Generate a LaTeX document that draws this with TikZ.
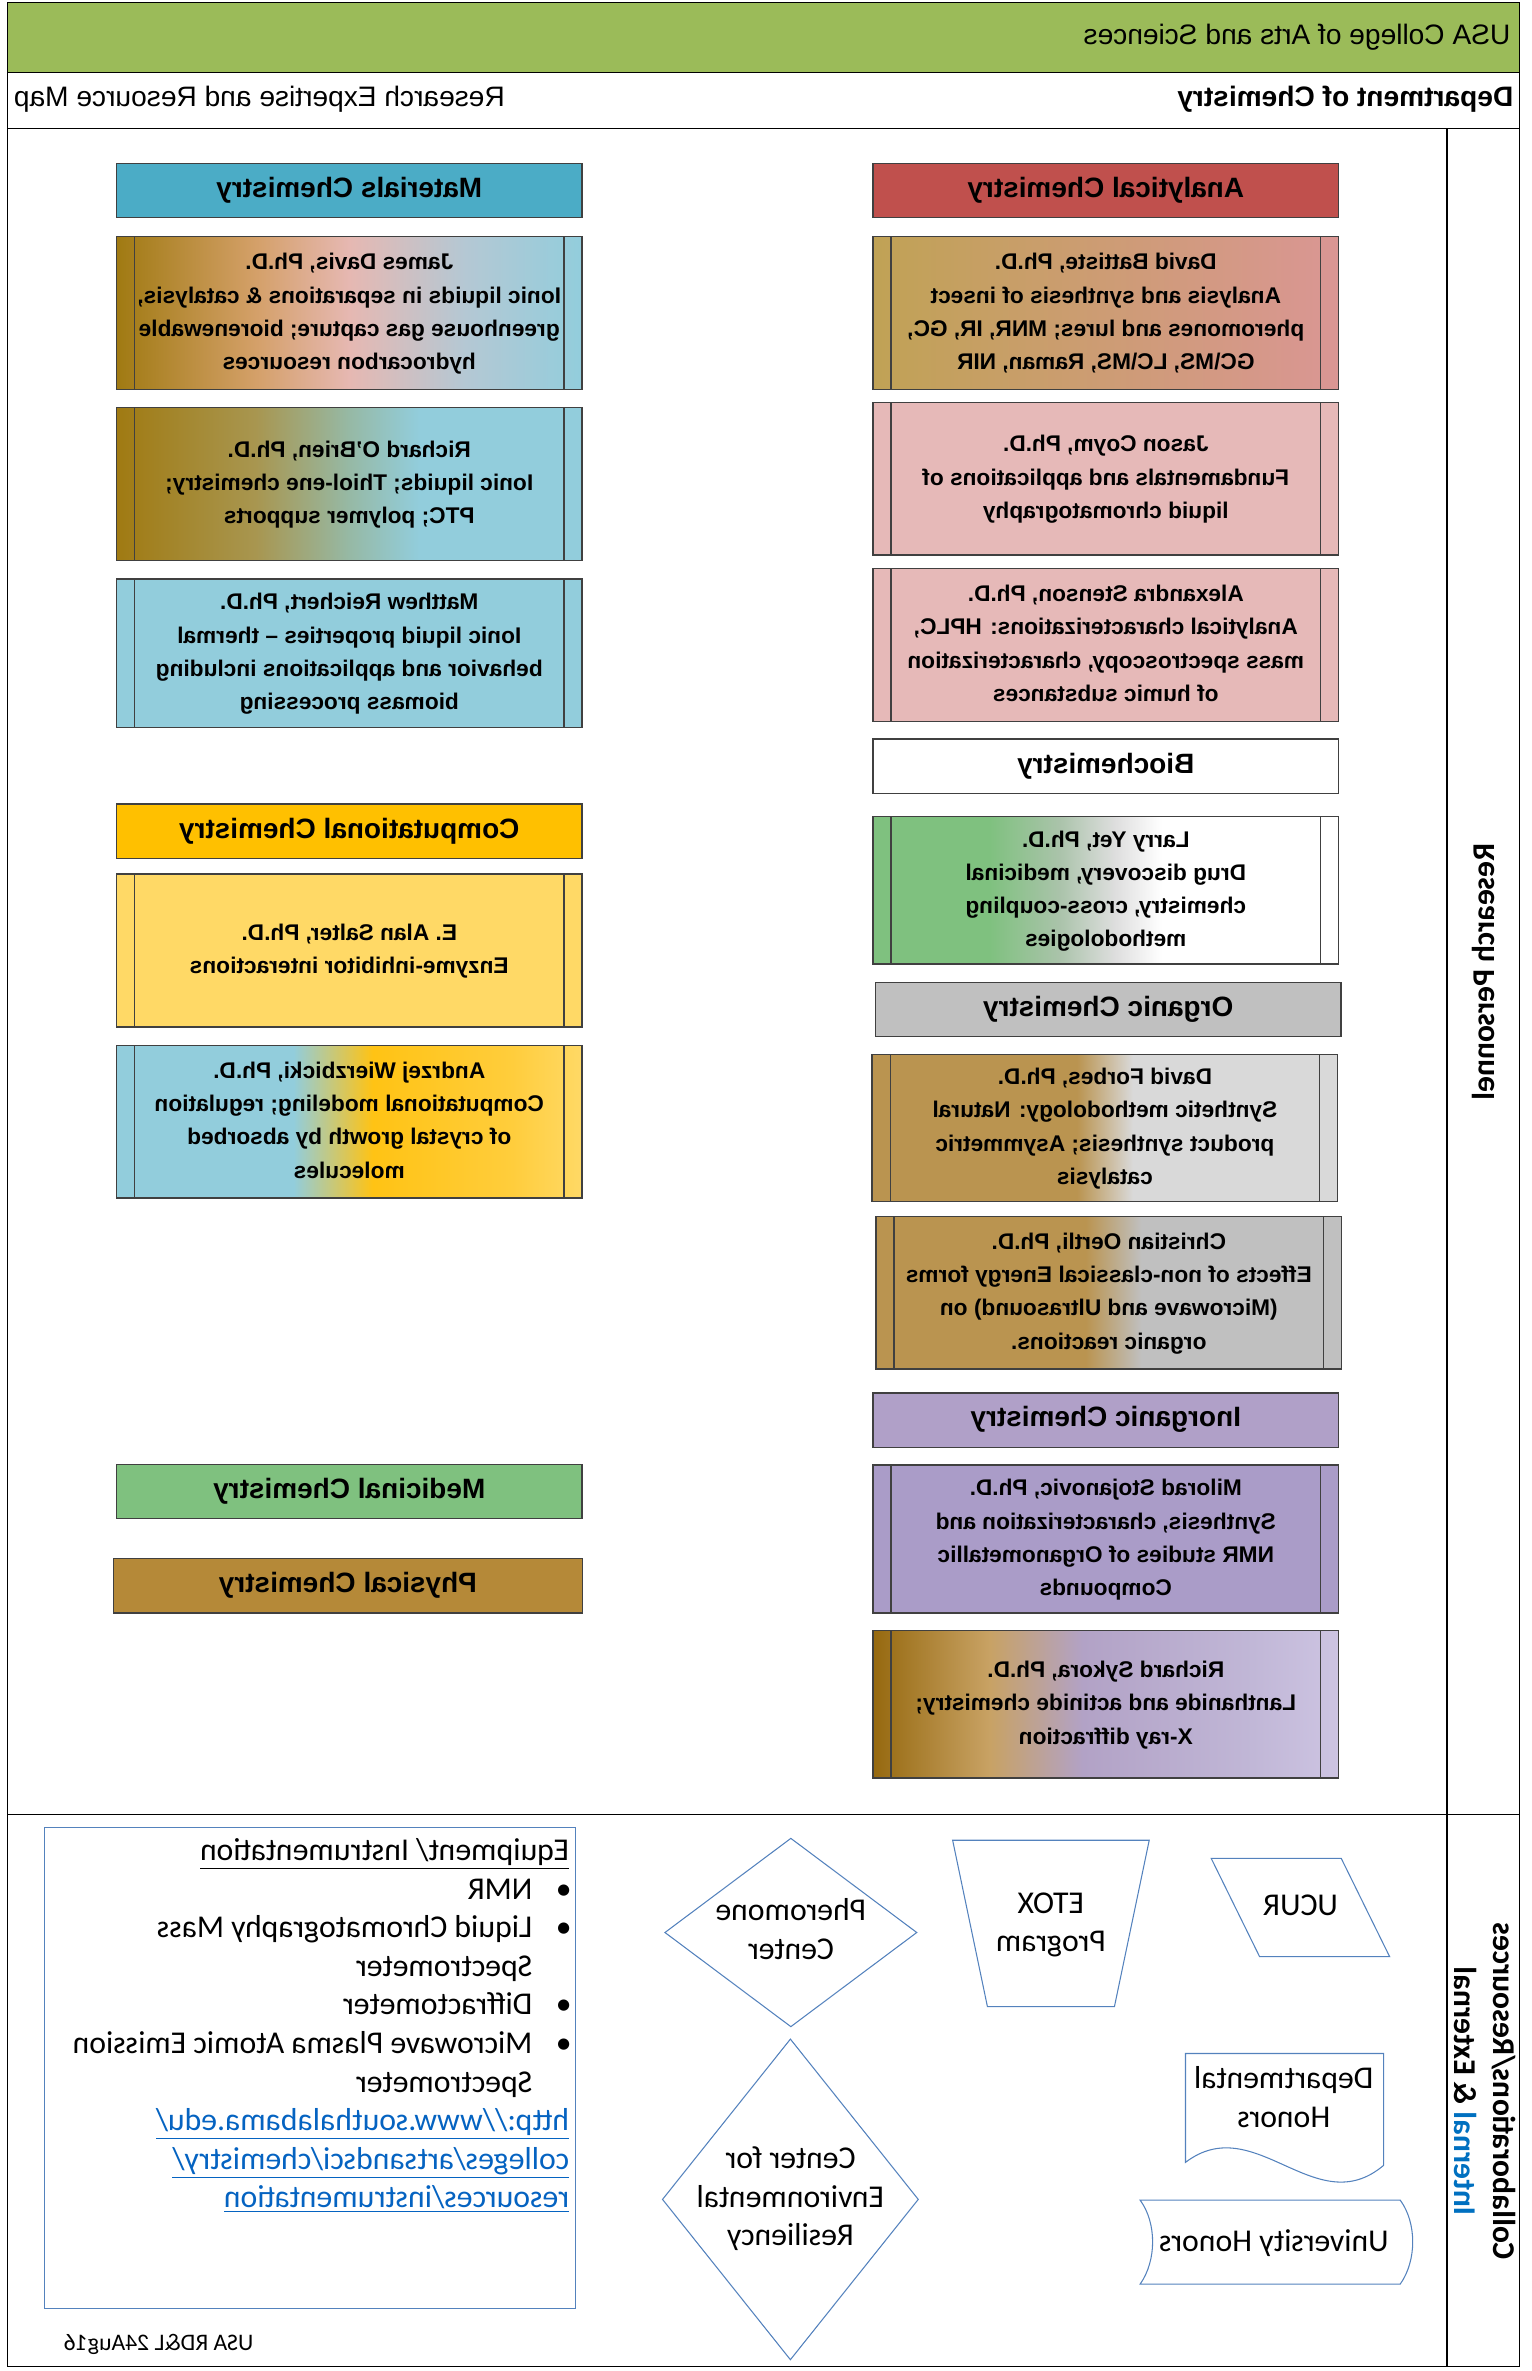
\documentclass[tikz,border=0pt]{standalone}
\usepackage{fontspec}
\usepackage{graphicx}
\setmainfont{Liberation Sans}
\newfontfamily\calfont{Carlito}
\usetikzlibrary{shapes.geometric}

\definecolor{hdgreen}{RGB}{155,187,89}
\definecolor{matblue}{RGB}{75,172,198}
\definecolor{anared}{RGB}{192,80,77}
\definecolor{compgold}{RGB}{255,192,0}
\definecolor{orggray}{RGB}{192,192,192}
\definecolor{inorgpurple}{RGB}{176,160,200}
\definecolor{medgreen}{RGB}{127,193,127}
\definecolor{physbrown}{RGB}{181,137,56}
\definecolor{rose}{RGB}{230,185,184}
\definecolor{sky}{RGB}{146,205,220}
\definecolor{sunyellow}{RGB}{255,217,102}
\definecolor{lilac}{RGB}{170,156,200}
\definecolor{shpblue}{RGB}{84,130,189}
\definecolor{linkblue}{RGB}{5,99,193}
\definecolor{intblue}{RGB}{0,112,192}
% gradient stops
\definecolor{oldgold}{RGB}{160,122,18}
\definecolor{dvB}{RGB}{212,160,105}
\definecolor{dvC}{RGB}{230,184,178}
\definecolor{dvD}{RGB}{180,200,212}
\definecolor{obB}{RGB}{168,150,80}
\definecolor{obC}{RGB}{150,185,165}
\definecolor{wzB}{RGB}{255,195,20}
\definecolor{wzC}{RGB}{255,205,60}
\definecolor{btA}{RGB}{192,162,85}
\definecolor{btB}{RGB}{218,150,148}
\definecolor{ytB}{RGB}{170,195,170}
\definecolor{ytC}{RGB}{222,222,222}
\definecolor{tanbr}{RGB}{186,148,80}
\definecolor{pale}{RGB}{217,217,217}
\definecolor{skA}{RGB}{150,105,15}
\definecolor{skB}{RGB}{200,162,100}
\definecolor{skC}{RGB}{178,162,198}
\definecolor{skD}{RGB}{192,182,214}
\definecolor{skE}{RGB}{205,196,226}

\pgfdeclarehorizontalshading{davisfade}{100bp}{color(0bp)=(oldgold); color(25bp)=(oldgold); color(40bp)=(dvB); color(50bp)=(dvC); color(62.5bp)=(dvD); color(75bp)=(sky); color(100bp)=(sky)}
\pgfdeclarehorizontalshading{obrienfade}{100bp}{color(0bp)=(oldgold); color(25bp)=(oldgold); color(40bp)=(obB); color(50bp)=(obC); color(57.5bp)=(sky); color(100bp)=(sky)}
\pgfdeclarehorizontalshading{wierzfade}{100bp}{color(0bp)=(sky); color(44bp)=(sky); color(52.5bp)=(wzB); color(67.5bp)=(wzC); color(75bp)=(sunyellow); color(100bp)=(sunyellow)}
\pgfdeclarehorizontalshading{battistefade}{100bp}{color(0bp)=(btA); color(25bp)=(btA); color(75bp)=(btB); color(100bp)=(btB)}
\pgfdeclarehorizontalshading{yetfade}{100bp}{color(0bp)=(medgreen); color(37.5bp)=(medgreen); color(45bp)=(ytB); color(51bp)=(ytC); color(56bp)=(white); color(100bp)=(white)}
\pgfdeclarehorizontalshading{forbesfade}{100bp}{color(0bp)=(tanbr); color(47bp)=(tanbr); color(53bp)=(pale); color(100bp)=(pale)}
\pgfdeclarehorizontalshading{oertlifade}{100bp}{color(0bp)=(tanbr); color(47.5bp)=(tanbr); color(53.5bp)=(orggray); color(100bp)=(orggray)}
\pgfdeclarehorizontalshading{sykorafade}{100bp}{color(0bp)=(skA); color(25bp)=(skA); color(37.5bp)=(skB); color(47.5bp)=(skC); color(65bp)=(skD); color(75bp)=(skE); color(100bp)=(skE)}

\newcommand\hdfont{\fontsize{18.6}{22}\selectfont}
\newcommand\areafont{\fontsize{18.5}{22}\selectfont\bfseries}
\newcommand\stafffont{\fontsize{15}{22}\selectfont\bfseries}
\newcommand\calbody{\calfont\fontsize{21}{25.5}\selectfont}
\newcommand\stripfont{\calfont\bfseries\fontsize{21}{26}\selectfont}
\newcommand\notefont{\calfont\fontsize{15.7}{18}\selectfont}
\newcommand\mtext[1]{\reflectbox{\begin{tabular}{@{}c@{}}\rule{0pt}{\dimexpr0.7\baselineskip+4pt\relax}#1\end{tabular}}}
\newcommand\itm{\makebox[24.2pt][l]{\hspace*{-1.7pt}\textbullet}}

\tikzset{
  frame/.style={draw=black, line width=1pt},
  area/.style={draw=black!75, line width=0.9pt, minimum width=308pt, minimum height=36pt, inner sep=0pt, font=\areafont},
  staff/.style={draw=black!75, line width=0.9pt, minimum width=308pt, minimum height=101pt, inner sep=0pt, font=\stafffont,
    path picture={\draw[black!75, line width=0.9pt]
      ([xshift=12pt]path picture bounding box.north west) -- ([xshift=12pt]path picture bounding box.south west)
      ([xshift=-12pt]path picture bounding box.north east) -- ([xshift=-12pt]path picture bounding box.south east);}},
  shp/.style={draw=shpblue, line width=0.7pt},
  lbl/.style={font=\calbody, inner sep=0pt},
  strip/.style={font=\stripfont, inner sep=0pt},
}

\begin{document}
\begin{tikzpicture}[x=1pt, y=-1pt]
\useasboundingbox (0,0) rectangle (1013,1568);

% ===== frame and header =====
\fill[hdgreen] (5,1.5) rectangle (1005,48);
\draw[frame] (5,1.5) rectangle (1005,1565);
\draw[frame] (5,48) -- (1005,48) (5,85) -- (1005,85) (5,1200) -- (1005,1200);
\draw[frame] (957,85) -- (957,1565);

\node[font=\hdfont, anchor=east, inner sep=0pt] (college) at (999,25) {\mtext{USA College of Arts and Sciences}};
\node[font=\hdfont\bfseries, anchor=east, inner sep=0pt] (dept) at (1001,66) {\mtext{Department of Chemistry}};
\node[font=\hdfont, anchor=west, inner sep=0pt] (mapname) at (9,66) {\mtext{Research Expertise and Resource Map}};

% ===== left column =====
\node[area, fill=matblue] (mat) at (231,126) {\mtext{Materials Chemistry}};
\node[staff, shade, shading=davisfade] (davis) at (231,207) {\mtext{James Davis, Ph.D.\\Ionic liquids in separations \& catalysis,\\greenhouse gas capture; biorenewable\\hydrocarbon resources}};
\node[staff, shade, shading=obrienfade] (obrien) at (231,320) {\mtext{Richard O’Brien, Ph.D.\\Ionic liquids; Thiol-ene chemistry;\\PTC; polymer supports}};
\node[staff, fill=sky, minimum height=98pt] (reichert) at (231,432) {\mtext{Matthew Reichert, Ph.D.\\Ionic liquid properties – thermal\\behavior and applications including\\biomass processing}};

\node[area, fill=compgold] (comp) at (231,549.8) {\mtext{Computational Chemistry}};
\node[staff, fill=sunyellow] (salter) at (231,628.6) {\mtext{E. Alan Salter, Ph.D.\\Enzyme-inhibitor interactions}};
\node[staff, shade, shading=wierzfade] (wierz) at (231,741.7) {\mtext{Andrzej Wierzbicki, Ph.D.\\Computational modeling; regulation\\of crystal growth by absorbed\\molecules}};

\node[area, fill=medgreen] (med) at (231,986.4) {\mtext{Medicinal Chemistry}};
\node[area, fill=physbrown, minimum width=310.4pt] (phys) at (230.1,1048.6) {\mtext{Physical Chemistry}};

% ===== right column =====
\node[area, fill=anared] (ana) at (731.3,126) {\mtext{Analytical Chemistry}};
\node[staff, shade, shading=battistefade] (battiste) at (731.3,207) {\mtext{David Battiste, Ph.D.\\Analysis and synthesis of insect\\pheromones and lures; MNR, IR, GC,\\GC\textbackslash MS, LC\textbackslash MS, Raman, NIR}};
\node[staff, fill=rose] (coym) at (731.3,316.5) {\mtext{Jason Coym, Ph.D.\\Fundamentals and applications of\\liquid chromatography}};
\node[staff, fill=rose] (stenson) at (731.3,426.5) {\mtext{Alexandra Stenson, Ph.D.\\Analytical characterizations: HPLC,\\mass spectroscopy, characterization\\of humic substances}};

\node[area, fill=white] (bio) at (731.3,506.8) {\mtext{Biochemistry}};
\node[staff, shade, shading=yetfade, minimum height=97.6pt] (yet) at (731.3,588.8) {\mtext{Larry Yet, Ph.D.\\Drug discovery, medicinal\\chemistry, cross-coupling\\methodologies}};

\node[area, fill=orggray] (org) at (732.9,667.6) {\mtext{Organic Chemistry}};
\node[staff, shade, shading=forbesfade, minimum height=97.4pt] (forbes) at (730.7,745.9) {\mtext{David Forbes, Ph.D.\\Synthetic methodology: Natural\\product synthesis; Asymmetric\\catalysis}};
\node[staff, shade, shading=oertlifade] (oertli) at (733.3,854.8) {\mtext{Christian Oertli, Ph.D.\\Effects of non-classical Energy forms\\(Microwave and Ultrasound) on\\organic reactions.}};

\node[area, fill=inorgpurple] (inorg) at (731.3,939.2) {\mtext{Inorganic Chemistry}};
\node[staff, fill=lilac, minimum height=98pt] (stojan) at (731.3,1017.8) {\mtext{Milorad Stojanovic, Ph.D.\\Synthesis, characterization and\\NMR studies of Organometallic\\Compounds}};
\node[staff, shade, shading=sykorafade, minimum height=97.6pt] (sykora) at (731.3,1127.1) {\mtext{Richard Sykora, Ph.D.\\Lanthanide and actinide chemistry;\\X-ray diffraction}};

% ===== side strip =====
\node[strip, rotate=90] (personnel) at (981,643) {\reflectbox{Research Personnel}};
\node[strip, rotate=-90] (collab) at (980,1383) {\mtext{Collaborations/Resources\\\textcolor{intblue}{Internal} \& External}};

% ===== resources =====
\node[shp, minimum width=351pt, minimum height=318pt, inner sep=0pt] (equipbox) at (204.8,1367.6) {};
\node[lbl, anchor=north east] (equip) at (376.5,1212.5) {\reflectbox{\begin{tabular}{@{}l@{}}
\underline{Equipment/ Instrumentation}\\
\itm NMR\\
\itm Liquid Chromatography Mass\\
\hspace*{24.2pt}Spectrometer\\
\itm Diffractometer\\
\itm Microwave Plasma Atomic Emission\\
\hspace*{24.2pt}Spectrometer\\
\textcolor{linkblue}{\underline{http://www.southalabama.edu/}}\\
\textcolor{linkblue}{\underline{colleges/artsandsci/chemistry/}}\\
\textcolor{linkblue}{\underline{resources/instrumentation}}
\end{tabular}}};
\node[font=\notefont, anchor=west, inner sep=0pt] (stamp) at (42,1551) {\mtext{USA RD\&L 24Aug16}};

\node[shp, diamond, minimum width=166.8pt, minimum height=124.8pt, inner sep=0pt] (pher) at (523,1278) {};
\node[lbl] (pherlbl) at (pher) {\mtext{Pheromone\\Center}};
\node[shp, diamond, minimum width=169.4pt, minimum height=212.3pt, inner sep=0pt] (cer) at (522.7,1454.5) {};
\node[lbl] (cerlbl) at (cer) {\mtext{Center for\\Environmental\\Resiliency}};

\draw[shp] (630,1217) -- (760,1217) -- (737,1327) -- (653,1327) -- cycle;
\node[lbl] (etox) at (695,1273) {\mtext{ETOX\\Program}};

\draw[shp] (801,1229) -- (887,1229) -- (919,1294) -- (833,1294) -- cycle;
\node[lbl] (ucur) at (860,1261.5) {\mtext{UCUR}};

\draw[shp] (784,1358) -- (915,1358) -- (915,1432) .. controls (870,1470) and (830,1395) .. (784,1430) -- cycle;
\node[lbl] (depthon) at (849,1389) {\mtext{Departmental\\Honors}};

\draw[shp] (754,1455) -- (926,1455) .. controls (937,1470) and (937,1495) .. (926,1510.5) -- (754,1510.5) .. controls (765,1495) and (765,1470) .. (754,1455) -- cycle;
\node[lbl] (unihon) at (842.5,1484) {\mtext{University Honors}};

\end{tikzpicture}
\end{document}
